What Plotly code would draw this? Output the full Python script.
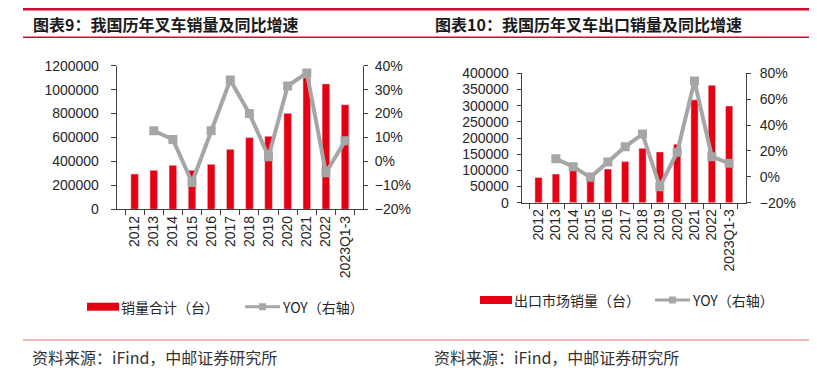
import plotly.graph_objects as go

# ---------------- data ----------------
categories = ["2012", "2013", "2014", "2015", "2016", "2017", "2018",
              "2019", "2020", "2021", "2022", "2023Q1-3"]

# chart 9: total forklift sales (units) and YoY
sales_total = [295000, 326000, 368000, 326000, 376000, 501000, 599000,
               610000, 802000, 1099000, 1048000, 874000]
sales_yoy = [None, 0.128, 0.092, -0.088, 0.128, 0.34, 0.20,
             0.02, 0.315, 0.37, -0.047, 0.086]

# chart 10: export sales (units) and YoY
export_sales = [78000, 88500, 100000, 92500, 104000, 127000, 168000,
                157000, 181000, 318000, 363000, 299000]
export_yoy = [None, 0.14, 0.078, -0.004, 0.114, 0.233, 0.33,
              -0.076, 0.19, 0.74, 0.156, 0.104]

left1_ticks = [0, 200000, 400000, 600000, 800000, 1000000, 1200000]
right1_ticks = [-0.2, -0.1, 0.0, 0.1, 0.2, 0.3, 0.4]
left2_ticks = [0, 50000, 100000, 150000, 200000, 250000, 300000, 350000, 400000]
right2_ticks = [-0.2, 0.0, 0.2, 0.4, 0.6, 0.8]

title1 = "图表9：我国历年叉车销量及同比增速"
title2 = "图表10：我国历年叉车出口销量及同比增速"
legend1 = ["销量合计（台）", "YOY（右轴）"]
legend2 = ["出口市场销量（台）", "YOY（右轴）"]
source_text = "资料来源：iFind，中邮证券研究所"

# ---------------- styling ----------------
W, H = 817, 373
OFF = 8  # the page places the figure 8px from the window's top-left corner
RED = "#E60012"
GRAY = "#A6A6A6"
AX = "#404040"
TXT = "#262626"
TICKFONT = dict(family="Liberation Sans, Arial, sans-serif", size=14, color=TXT)
CJK = "Noto Sans CJK SC"


def px(x):
    return (x - OFF) / W


def py(y):
    return 1 - (y - OFF) / H


fig = go.Figure()

# chart 9
fig.add_trace(go.Bar(x=categories, y=sales_total, marker_color=RED, width=0.4,
                     xaxis="x", yaxis="y", showlegend=False))
fig.add_trace(go.Scatter(x=categories, y=sales_yoy, mode="lines+markers",
                         line=dict(color=GRAY, width=4),
                         marker=dict(symbol="square", size=9, color=GRAY),
                         xaxis="x", yaxis="y2", showlegend=False))
# chart 10
fig.add_trace(go.Bar(x=categories, y=export_sales, marker_color=RED, width=0.42,
                     xaxis="x2", yaxis="y3", showlegend=False))
fig.add_trace(go.Scatter(x=categories, y=export_yoy, mode="lines+markers",
                         line=dict(color=GRAY, width=4),
                         marker=dict(symbol="square", size=9, color=GRAY),
                         xaxis="x2", yaxis="y4", showlegend=False))

xcommon = dict(type="category", showline=True, linecolor=AX, linewidth=1,
               ticks="outside", ticklen=5, tickcolor=AX, tickson="boundaries",
               tickangle=-90, tickfont=TICKFONT, showgrid=False, zeroline=False,
               fixedrange=True, automargin=False)
ycommon = dict(showline=True, linecolor=AX, linewidth=1, ticks="outside",
               ticklen=5, tickcolor=AX, tickfont=TICKFONT, showgrid=False,
               zeroline=False, fixedrange=True, automargin=False)

fig.update_layout(
    width=W, height=H,
    margin=dict(l=0, r=0, t=0, b=0, pad=0, autoexpand=False),
    paper_bgcolor="white", plot_bgcolor="white",
    showlegend=False,
    xaxis=dict(xcommon, domain=[px(116.7), px(363)], anchor="y"),
    yaxis=dict(ycommon, domain=[py(209.3), py(65.7)], range=[0, 1200000],
               tickvals=left1_ticks, tickformat="d", anchor="x",
               ticklabelstandoff=9),
    yaxis2=dict(ycommon, overlaying="y", side="right", anchor="x",
                range=[-0.2, 0.4], tickvals=right1_ticks, tickformat=".0%",
                ticklen=4, ticklabelstandoff=4),
    xaxis2=dict(xcommon, domain=[px(521.7), px(746)], anchor="y3"),
    yaxis3=dict(ycommon, domain=[py(202.7), py(73.3)], range=[0, 400000],
                tickvals=left2_ticks, tickformat="d", anchor="x2",
                ticklen=4, ticklabelstandoff=5),
    yaxis4=dict(ycommon, overlaying="y3", side="right", anchor="x2",
                range=[-0.2, 0.8], tickvals=right2_ticks, tickformat=".0%",
                ticklen=4, ticklabelstandoff=6),
)

shapes = []
# header rules (the top one sits as high as the page allows)
shapes.append(dict(type="line", xref="paper", yref="paper", x0=px(23), x1=px(817),
                   y0=py(9.2), y1=py(9.2), line=dict(color="#C8102E", width=2.5)))
shapes.append(dict(type="line", xref="paper", yref="paper", x0=px(23), x1=px(817),
                   y0=py(37.3), y1=py(37.3), line=dict(color="#C8102E", width=1.5)))
# footer rule
shapes.append(dict(type="line", xref="paper", yref="paper", x0=px(23), x1=px(817),
                   y0=py(340), y1=py(340), line=dict(color="#E57373", width=1)))

annotations = []
for x, t in [(31, title1), (433, title2)]:
    annotations.append(dict(xref="paper", yref="paper", x=px(x), y=py(24),
                            xanchor="left", yanchor="middle", showarrow=False,
                            text="<b>" + t + "</b>",
                            font=dict(family=CJK, size=16, color="#1a1a1a")))
for x in (30, 432):
    annotations.append(dict(xref="paper", yref="paper", x=px(x), y=py(357),
                            xanchor="left", yanchor="middle", showarrow=False,
                            text=source_text,
                            font=dict(family=CJK, size=16, color="#333333")))


def add_legend(y, rect_x0, rect_x1, bar_text, line_x0, line_x1, line_text):
    shapes.append(dict(type="rect", xref="paper", yref="paper",
                       x0=px(rect_x0), x1=px(rect_x1), y0=py(y + 4), y1=py(y - 4),
                       fillcolor=RED, line=dict(width=0)))
    annotations.append(dict(xref="paper", yref="paper", x=px(rect_x1), y=py(y),
                            xanchor="left", yanchor="middle", showarrow=False,
                            text=bar_text,
                            font=dict(family=CJK, size=14, color=TXT)))
    shapes.append(dict(type="line", xref="paper", yref="paper",
                       x0=px(line_x0), x1=px(line_x1), y0=py(y), y1=py(y),
                       line=dict(color=GRAY, width=3)))
    mid = (line_x0 + line_x1) / 2
    shapes.append(dict(type="rect", xref="paper", yref="paper",
                       x0=px(mid - 3.5), x1=px(mid + 3.5), y0=py(y + 3.5), y1=py(y - 3.5),
                       fillcolor=GRAY, line=dict(width=0)))
    annotations.append(dict(xref="paper", yref="paper", x=px(line_x1), y=py(y),
                            xanchor="left", yanchor="middle", showarrow=False,
                            text=line_text,
                            font=dict(family=CJK, size=14, color=TXT)))


add_legend(306.7, 87, 119, legend1[0], 245, 280, legend1[1])
add_legend(300, 480, 512, legend2[0], 655, 690, legend2[1])

fig.update_layout(shapes=shapes, annotations=annotations)

fig.write_html("out.html")
